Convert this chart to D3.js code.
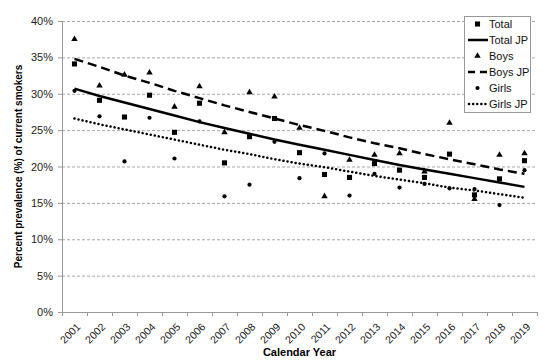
<!DOCTYPE html>
<html>
<head>
<meta charset="utf-8">
<script src="https://cdn.jsdelivr.net/npm/d3@7"></script>
<style>
  body { margin: 0; background: #fff; }
  text { font-family: "Liberation Sans", Arial, sans-serif; }
</style>
</head>
<body>
<div class="chart"></div>
<script>
// data
var years = ["2001", "2002", "2003", "2004", "2005", "2006", "2007", "2008", "2009", "2010",
  "2011", "2012", "2013", "2014", "2015", "2016", "2017", "2018", "2019"];
var total = [34.1, 29.1, 26.8, 29.8, 24.7, 28.7, 20.5, 24.1, 26.6, 21.9, 18.9, 18.5, 20.4, 19.5, 18.5, 21.7, 16.1, 18.3, 20.8];
var boys = [37.5, 31.1, 32.6, 32.9, 28.2, 31.0, 24.7, 30.2, 29.6, 25.3, 15.9, 20.9, 21.6, 21.8, 19.3, 26.0, 15.5, 21.6, 21.8];
var girls = [30.4, 26.9, 20.7, 26.7, 21.1, 26.2, 15.9, 17.5, 23.4, 18.4, 21.8, 16.0, 19.0, 17.1, 17.6, 17.0, 16.9, 14.7, 19.5];
// joinpoint fitted lines
var totalJP = [30.7, 29.7, 28.8, 27.9, 27.0, 26.1, 25.3, 24.5, 23.7, 23.0, 22.3, 21.6, 20.9, 20.2, 19.6, 19.0, 18.4, 17.8, 17.2];
var boysJP = [34.8, 33.7, 32.5, 31.5, 30.4, 29.4, 28.4, 27.5, 26.6, 25.7, 24.9, 24.0, 23.2, 22.5, 21.7, 21.0, 20.3, 19.6, 19.0];
var girlsJP = [26.6, 25.8, 25.1, 24.4, 23.7, 23.0, 22.3, 21.7, 21.0, 20.4, 19.9, 19.3, 18.7, 18.2, 17.7, 17.1, 16.7, 16.2, 15.7];
var yTicks = [0, 5, 10, 15, 20, 25, 30, 35, 40];

var svgWidth = 550;
var svgHeight = 364;

var margin = { top: 21, right: 13, bottom: 52, left: 62 };
var width = svgWidth - margin.left - margin.right;
var height = svgHeight - margin.top - margin.bottom;

var svg = d3
  .select(".chart")
  .append("svg")
  .attr("width", svgWidth)
  .attr("height", svgHeight);

var chartGroup = svg
  .append("g")
  .attr("transform", `translate(${margin.left}, ${margin.top})`);

var xScale = d3.scaleBand().domain(years).range([0, width]).padding(0);
var yScale = d3.scaleLinear().domain([0, 40]).range([height, 0]);
var xc = (i) => xScale(years[i]) + xScale.bandwidth() / 2;

// dashed gridlines
chartGroup
  .append("g")
  .selectAll("line")
  .data(yTicks.slice(1))
  .enter()
  .append("line")
  .attr("x1", 0)
  .attr("x2", width)
  .attr("y1", (d) => yScale(d) + 0.5)
  .attr("y2", (d) => yScale(d) + 0.5)
  .attr("stroke", "#a6a6a6")
  .attr("stroke-dasharray", "3,2");

// y axis
var leftAxis = d3
  .axisLeft(yScale)
  .tickValues(yTicks)
  .tickSize(4)
  .tickPadding(5)
  .tickFormat((d) => d + "%");
var yAxis = chartGroup.append("g").call(leftAxis);
yAxis.select(".domain").attr("stroke", "#999");
yAxis.selectAll(".tick line").attr("stroke", "#999");
yAxis.selectAll("text").attr("font-size", 11).attr("fill", "#222");

// x axis, ticks at band edges
var bottomAxis = d3.axisBottom(xScale).tickSize(0).tickFormat("");
var xAxis = chartGroup
  .append("g")
  .attr("transform", `translate(0, ${height})`)
  .call(bottomAxis);
xAxis.select(".domain").attr("stroke", "#999");
xAxis
  .selectAll("line.edge")
  .data(d3.range(years.length + 1))
  .enter()
  .append("line")
  .attr("class", "edge")
  .attr("x1", (i) => i * xScale.bandwidth() + 0.5)
  .attr("x2", (i) => i * xScale.bandwidth() + 0.5)
  .attr("y1", 0)
  .attr("y2", 4)
  .attr("stroke", "#999");

// rotated year labels
chartGroup
  .append("g")
  .selectAll("text")
  .data(years)
  .enter()
  .append("text")
  .attr("transform", (d, i) => `translate(${xc(i) + 4}, ${height + 13}) rotate(-45)`)
  .attr("text-anchor", "end")
  .attr("dy", "0.35em")
  .attr("font-size", 10.5)
  .attr("fill", "#222")
  .text((d) => d);

// axis titles
chartGroup
  .append("text")
  .attr("x", width / 2)
  .attr("y", height + 44)
  .attr("text-anchor", "middle")
  .attr("font-size", 11)
  .attr("font-weight", "bold")
  .text("Calendar Year");

chartGroup
  .append("text")
  .attr("transform", "rotate(-90)")
  .attr("x", -height / 2)
  .attr("y", -40)
  .attr("text-anchor", "middle")
  .attr("font-size", 10)
  .attr("font-weight", "bold")
  .text("Percent prevalence (%) of current smokers");

// fitted lines
var line = d3
  .line()
  .x((d, i) => xc(i))
  .y((d) => yScale(d));

var lineStyles = [
  { data: totalJP, dash: null },
  { data: boysJP, dash: "9,5" },
  { data: girlsJP, dash: "0.1,4" },
];
lineStyles.forEach(function (s) {
  chartGroup
    .append("path")
    .datum(s.data)
    .attr("d", line)
    .attr("fill", "none")
    .attr("stroke", "#000")
    .attr("stroke-width", 2.5)
    .attr("stroke-linecap", s.dash === "0.1,4" ? "round" : "butt")
    .attr("stroke-dasharray", s.dash);
});

// marker symbols
var sq = d3.symbol().type(d3.symbolSquare).size(26);
var tri = d3.symbol().type(d3.symbolTriangle).size(18);
var dot = d3.symbol().type(d3.symbolCircle).size(14);

function drawPoints(values, sym) {
  chartGroup
    .append("g")
    .selectAll("path")
    .data(values)
    .enter()
    .append("path")
    .attr("d", sym)
    .attr("transform", (d, i) => `translate(${xc(i)}, ${yScale(d)})`)
    .attr("fill", "#000");
}
drawPoints(total, sq);
drawPoints(boys, tri);
drawPoints(girls, dot);

// legend
var legend = svg.append("g").attr("transform", "translate(464, 16)");
legend
  .append("rect")
  .attr("x", 0.5)
  .attr("y", 0.5)
  .attr("width", 66)
  .attr("height", 96)
  .attr("fill", "#fff")
  .attr("stroke", "#999");

var legendItems = [
  { label: "Total", sym: sq },
  { label: "Total JP", dash: "none" },
  { label: "Boys", sym: tri },
  { label: "Boys JP", dash: "7,5" },
  { label: "Girls", sym: dot },
  { label: "Girls JP", dash: "0.1,4" },
];
legendItems.forEach(function (item, i) {
  var yy = 8 + i * 16;
  if (item.sym) {
    legend
      .append("path")
      .attr("d", item.sym)
      .attr("transform", `translate(13.5, ${yy})`)
      .attr("fill", "#000");
  } else {
    legend
      .append("line")
      .attr("x1", item.dash === "0.1,4" ? 5 : 4)
      .attr("x2", 24)
      .attr("y1", yy)
      .attr("y2", yy)
      .attr("stroke", "#000")
      .attr("stroke-width", 2.5)
      .attr("stroke-linecap", item.dash === "0.1,4" ? "round" : "butt")
      .attr("stroke-dasharray", item.dash === "none" ? null : item.dash);
  }
  legend
    .append("text")
    .attr("x", 25)
    .attr("y", yy)
    .attr("dy", "0.35em")
    .attr("font-size", 11)
    .attr("fill", "#111")
    .text(item.label);
});
</script>
</body>
</html>
